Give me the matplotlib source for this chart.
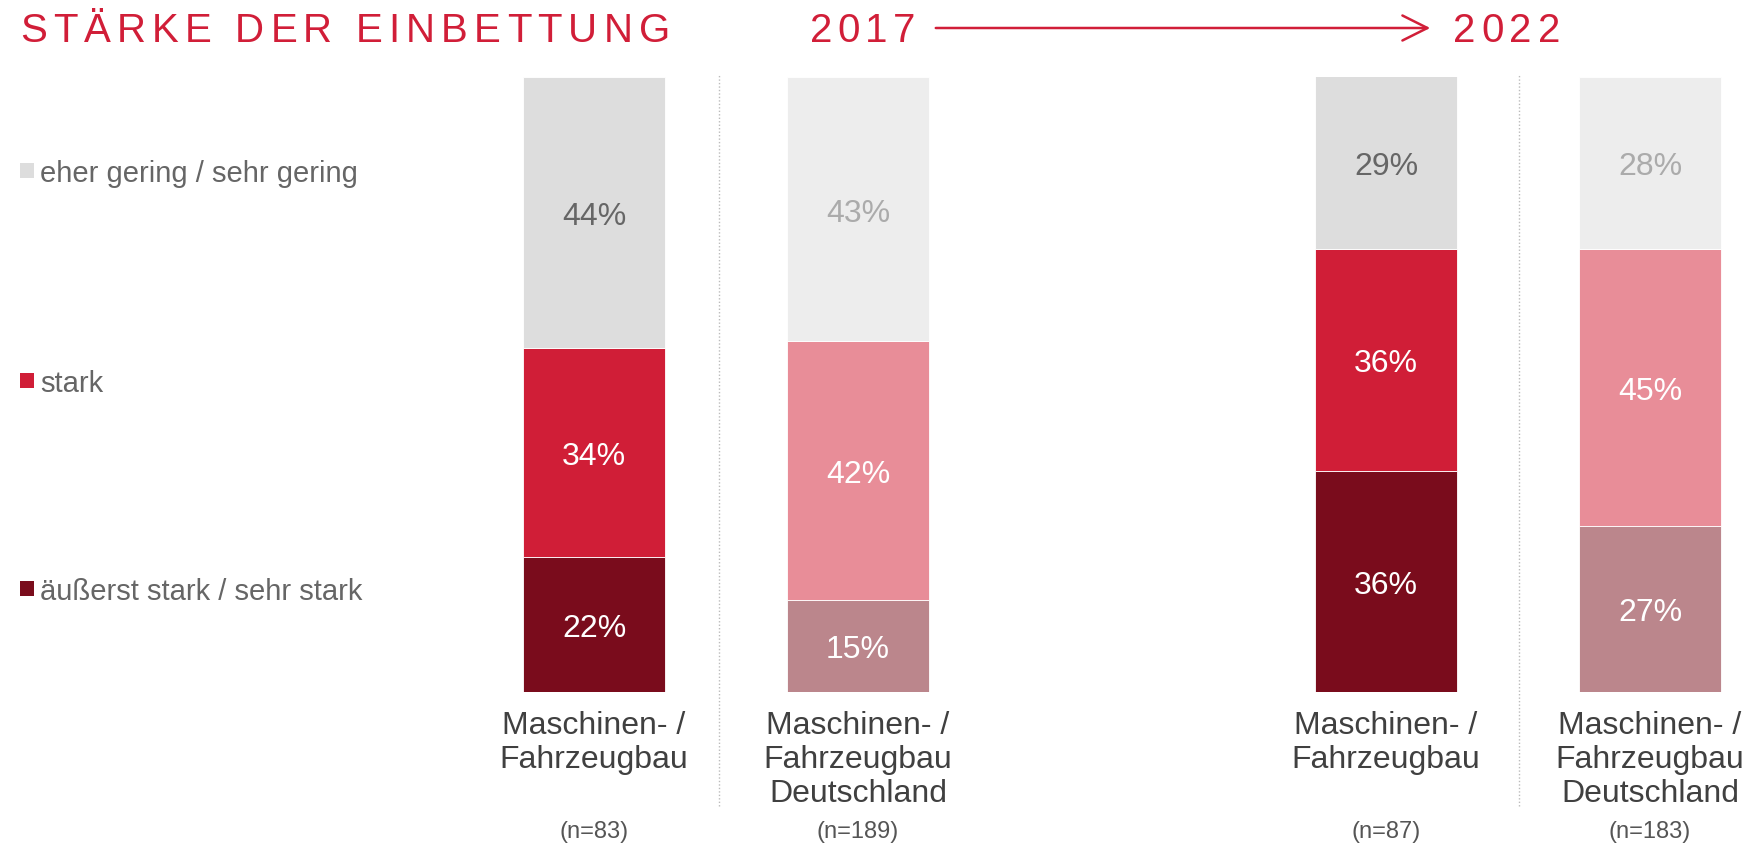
import matplotlib
matplotlib.use("Agg")
import matplotlib.pyplot as plt
from matplotlib.font_manager import FontProperties, findfont, fontManager
from matplotlib.patches import Rectangle

# ---------------- data ----------------
categories = ["Maschinen- /\nFahrzeugbau",
              "Maschinen- /\nFahrzeugbau\nDeutschland",
              "Maschinen- /\nFahrzeugbau",
              "Maschinen- /\nFahrzeugbau\nDeutschland"]
sample_sizes = ["(n=83)", "(n=189)", "(n=87)", "(n=183)"]
years = ["2017", "2022"]
series_names = ["äußerst stark / sehr stark", "stark", "eher gering / sehr gering"]
sehr_stark = [22, 15, 36, 27]
stark = [34, 42, 36, 45]
gering = [44, 43, 29, 28]
title = "STÄRKE DER EINBETTUNG"

# ---------------- style ----------------
W, H = 1750, 845
RED = "#D11E38"
names = {f.name for f in fontManager.ttflist}
NARROW = "Liberation Sans Narrow" if "Liberation Sans Narrow" in names else "Liberation Sans"
SANS = "Liberation Sans"

colors_region = ["#7A0C1C", "#D01E37", "#DDDDDD"]
colors_de = ["#BB868C", "#E88D98", "#EDEDED"]
bar_colors = [colors_region, colors_de, colors_region, colors_de]
label_colors_region = ["white", "white", "#666666"]
label_colors_de = ["white", "white", "#ABABAB"]
label_colors = [label_colors_region, label_colors_de, label_colors_region, label_colors_de]
positions = [0, 1, 3, 4]

fig = plt.figure(figsize=(W / 100, H / 100), dpi=100)
# axes spans pixel rows 78 (100%) to 693 (0%)
ax = fig.add_axes([0, (H - 693) / H, 1, 615 / H])
ax.set_xlim(-594 / 264, (W - 594) / 264)
ax.set_ylim(0, 100)
ax.axis("off")

px_per_unit = 6.15


def row_to_y(row):
    return (693 - row) / px_per_unit


series = [sehr_stark, stark, gering]
for i, pos in enumerate(positions):
    bottom = 0
    for k, vals in enumerate(series):
        v = vals[i]
        ax.bar(pos, v, bottom=bottom, width=0.54, color=bar_colors[i][k],
               edgecolor="white", linewidth=0.6)
        top = min(bottom + v, 100)
        yc = (bottom + top) / 2
        ax.text(pos, yc - 1.85, f"{v}%", ha="center", va="baseline",
                fontsize=23, color=label_colors[i][k], family=SANS)
        bottom += v
    ax.text(pos, row_to_y(711), categories[i], ha="center", va="top",
            fontsize=23, color="#404040", family=SANS, linespacing=1.17,
            clip_on=False)
    ax.text(pos, row_to_y(832), sample_sizes[i], ha="center", va="center",
            fontsize=17, color="#555555", family=SANS, clip_on=False)

# dotted separators
for xs in [(719 - 594) / 264, (1519 - 594) / 264]:
    ax.plot([xs, xs], [row_to_y(807), row_to_y(76)], linestyle=(0, (1, 1.5)),
            color="#BBBBBB", linewidth=1.0, clip_on=False)

# legend at left
legend_rows = [589, 381, 171]
for k, name in enumerate(series_names):
    r = legend_rows[k]
    fig.patches.append(Rectangle((20 / W, 1 - (r + 7.5) / H), 14 / W, 15 / H,
                                 transform=fig.transFigure,
                                 facecolor=colors_region[k], edgecolor="none"))
    fig.text(40 / W, 1 - r / H, name, ha="left", va="center_baseline",
             fontsize=21, color="#666666", family=SANS)

# letter-spaced header texts
renderer = fig.canvas.get_renderer()


def tracked(s, x0, x1, baseline_row, size, color):
    fp = FontProperties(family=NARROW, size=size)

    def w(t):
        return renderer.get_text_width_height_descent(t, fp, ismath=False)[0]
    base = w("XX")
    adv = [w("X" + c + "X") - base for c in s]
    natural = sum(adv[:-1]) + w(s[-1])
    track = (x1 - x0 - natural) / (len(s) - 1)
    x = x0
    for c, a in zip(s, adv):
        fig.text(x / W, 1 - baseline_row / H, c, ha="left", va="baseline",
                 fontproperties=fp, color=color)
        x += a + track


tracked(title, 20, 670, 42, 29, RED)
tracked(years[0], 810, 915, 42, 29, RED)
tracked(years[1], 1453, 1560, 42, 29, RED)

# arrow between years
fig.add_artist(matplotlib.patches.FancyArrowPatch(
    (933 / W, 1 - 29 / H), (1433 / W, 1 - 29 / H), transform=fig.transFigure,
    arrowstyle="-|>,head_length=0,head_width=0" if False else "->,head_length=0.9,head_width=0.45",
    mutation_scale=20, color=RED, linewidth=1.8))

fig.savefig("out.png", dpi=100)
